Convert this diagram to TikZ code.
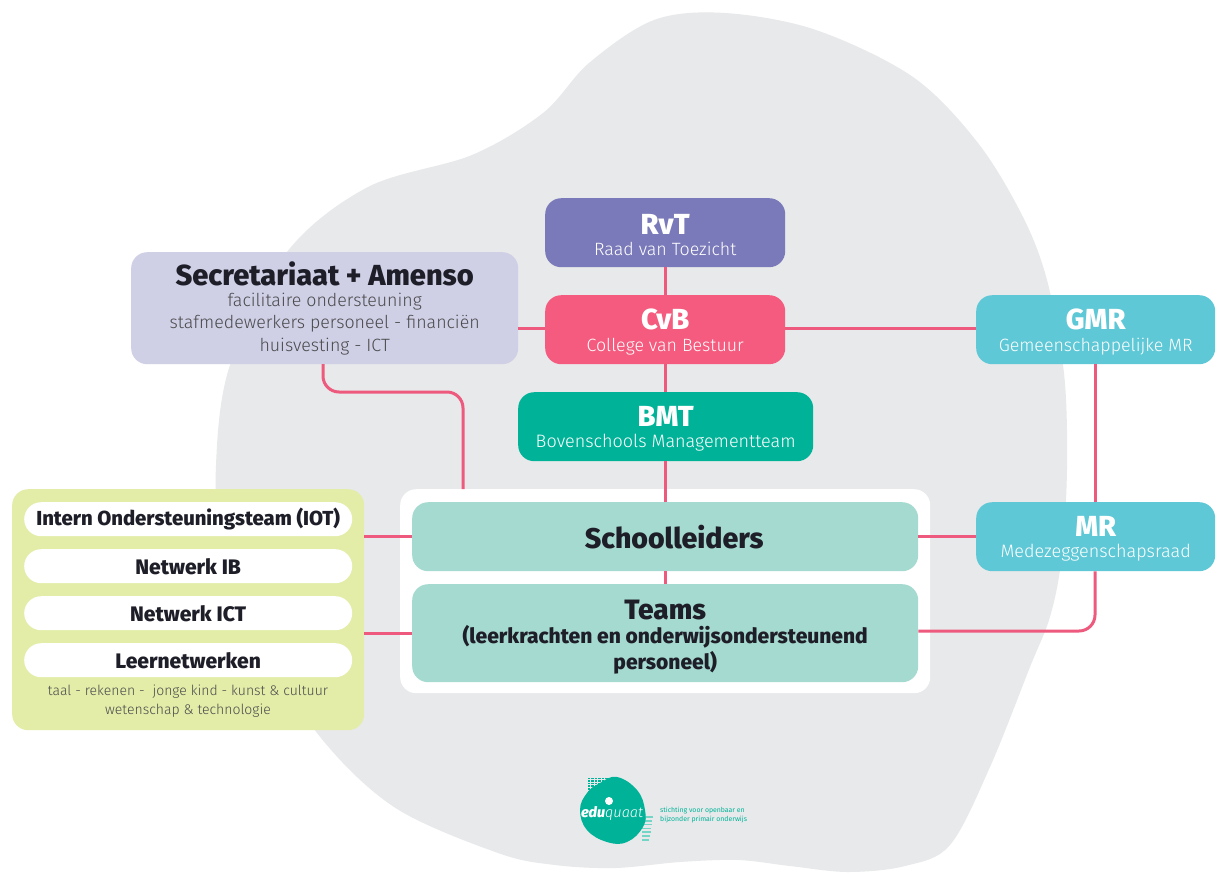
\documentclass[tikz,border=0pt]{standalone}
\usepackage{fontspec}
\setmainfont{Fira Sans}[BoldFont=Fira Sans ExtraBold]
\newfontfamily\lgt{Fira Sans Light}
\definecolor{cblob}{HTML}{E8E9EB}
\definecolor{cline}{HTML}{EE5A7E}
\definecolor{crvt}{HTML}{7A79B9}
\definecolor{csec}{HTML}{CFCFE6}
\definecolor{ccvb}{HTML}{F45B7E}
\definecolor{cgmr}{HTML}{5EC8D6}
\definecolor{cbmt}{HTML}{00B398}
\definecolor{cteam}{HTML}{A5DAD0}
\definecolor{cleft}{HTML}{E3EDA8}
\definecolor{cdark}{HTML}{1E1E28}
\definecolor{cgrey}{HTML}{4A4A4C}
\tikzset{
 x=1pt,y=-1pt,
 boxn/.style={rounded corners=16pt,inner sep=0pt,align=center,anchor=north west},
 pill/.style={rounded corners=17pt,fill=white,inner sep=0pt,anchor=north west,minimum width=328pt,minimum height=34pt,font=\bfseries\fontsize{21}{23}\selectfont,text=cdark},
 conn/.style={draw=cline,line width=3pt,rounded corners=16pt},
}
\newcommand{\bt}[2]{{\bfseries\fontsize{#1}{#1}\selectfont #2}}
\newcommand{\st}[2]{{\lgt\fontsize{#1}{#1}\selectfont #2}}
\newcommand{\dn}[1]{\rule{0pt}{#1pt}}
\begin{document}
\begin{tikzpicture}
\useasboundingbox (0,0) rectangle (1216,873);
\fill[white] (0,0) rectangle (1216,873);
% blob
\fill[cblob] plot[smooth cycle,tension=0.55] coordinates {
 (725,13) (816,30) (913,77) (978,143) (1023,217) (1047,280) (1063,365) (1067,430) (1066,500) (1060,570)
 (1049,620) (1030,667) (990,767) (950,845) (905,866) (848,872) (790,866) (738,860) (680,862) (615,868) (555,865) (498,853)
 (394,807) (317,733) (255,630) (222,545) (216,465) (230,365) (287,252) (368,187) (472,155) (543,113) (589,63) (654,20)};
% white panel
\node[fill=white,rounded corners=16pt,minimum width=530pt,minimum height=204pt,inner sep=0pt,anchor=north west] (panel) at (400,489) {};
% boxes
\node[boxn,fill=crvt,minimum width=240pt,minimum height=69pt,text=white] (rvt) at (545,198) {\dn{25}\bt{29}{RvT}\\[6.5pt]\st{17.8}{Raad van Toezicht}};
\node[boxn,fill=csec,minimum width=387pt,minimum height=112pt,text=cgrey] (sec) at (131,252) {\dn{24}\textcolor{cdark}{\bt{29}{Secretariaat + Amenso}}\\[6pt]\st{17.8}{facilitaire ondersteuning}\\[4pt]\st{17.8}{stafmedewerkers personeel - financiën}\\[5pt]\st{17.8}{huisvesting - ICT}};
\node[boxn,fill=ccvb,minimum width=240pt,minimum height=69pt,text=white] (cvb) at (545,295) {\dn{25}\bt{29}{CvB}\\[6.5pt]\st{17.8}{College van Bestuur}};
\node[boxn,fill=cgmr,minimum width=239pt,minimum height=69pt,text=white] (gmr) at (976,295) {\dn{25}\bt{29}{GMR}\\[6.5pt]\st{17.8}{Gemeenschappelijke MR}};
\node[boxn,fill=cbmt,minimum width=295pt,minimum height=69pt,text=white] (bmt) at (518,392) {\dn{25}\bt{29}{BMT}\\[6.5pt]\st{18}{Bovenschools Managementteam}};
\node[boxn,fill=cteam,minimum width=506pt,minimum height=69pt,text=cdark] (school) at (412,502) {\hspace{18pt}\bt{28.5}{Schoolleiders}};
\node[boxn,fill=cteam,minimum width=506pt,minimum height=98pt,text=cdark] (teams) at (412,584) {\dn{27}\bt{28}{Teams}\\[5pt]\bt{21}{(leerkrachten en onderwijsondersteunend}\\[2pt]\bt{21}{personeel)}};
\node[boxn,fill=cgmr,minimum width=239pt,minimum height=69pt,text=white] (mr) at (976,502) {\dn{25}\bt{29}{MR}\\[6.5pt]\st{18}{Medezeggenschapsraad}};
% left panel
\node[boxn,fill=cleft,minimum width=352pt,minimum height=241pt] (lft) at (12,489) {};
\node[pill,font=\bfseries\fontsize{20.3}{22}\selectfont] (iot) at (24,502) {Intern Ondersteuningsteam (IOT)};
\node[pill] (ib) at (24,549) {Netwerk IB};
\node[pill] (ict) at (24,596) {Netwerk ICT};
\node[pill] (ln) at (24,643) {Leernetwerken};
\node[align=center,text=cgrey,inner sep=0pt] (lntxt) at (188,701) {\st{14}{taal - rekenen -\ \ jonge kind - kunst \& cultuur}\\[4pt]\st{14}{wetenschap \& technologie}};
% connectors
\coordinate (sx) at (323,364);
\coordinate (sy) at (463,489);
\coordinate (l1) at (364,536);
\coordinate (l2) at (364,633);
\draw[conn] (rvt.south) -- (cvb.north);
\draw[conn] (sec.east |- 0,328) -- (cvb.west |- 0,328);
\draw[conn] (cvb.east |- 0,328) -- (gmr.west |- 0,328);
\draw[conn] (cvb.south) -- (bmt.north -| cvb.south);
\draw[conn] (bmt.south -| cvb.south) -- (school.north -| cvb.south);
\draw[conn] (school.south -| cvb.south) -- (teams.north -| cvb.south);
\draw[conn] (school.east) -- (mr.west);
\draw[conn] (gmr.south -| 1095,0) -- (mr.north -| 1095,0);
\draw[conn] (teams.east |- 0,631) -- (1095,631) -- (mr.south -| 1095,0);
\draw[conn] (sx) -- (323,392) -- (463,392) -- (sy);
\draw[conn] (l1) -- (l1 -| school.west);
\draw[conn] (l2) -- (l2 -| teams.west);
% logo
\fill[cbmt] (587,777) rectangle (608,792);
\foreach \i in {0,...,6} {
 \draw[cblob,line width=.8pt] (587+\i*3.5,776) -- (587+\i*3.5,793);
 \draw[cblob,line width=.8pt] (586,777+\i*2.6) -- (609,777+\i*2.6);
}
\foreach \i in {0,...,6} \draw[cbmt!55,line width=1.6pt] (642,817+\i*3.8) -- (653-\i*.6,817+\i*3.8);
\fill[cbmt] plot[smooth cycle,tension=0.7] coordinates {(617,777) (637,790) (645,810) (643,827) (627,842) (607,842) (587,830) (580,810) (587,793) (600,783)};
\fill[white] (609,801) circle (4pt);
\node[text=white,inner sep=0pt] (eq) at (612,813) {\itshape\fontsize{14.5}{14.5}\selectfont{\bfseries edu}{\lgt\itshape quaat}};
\node[text=cbmt,align=left,anchor=west,inner sep=0pt,font=\fontsize{6.9}{9}\selectfont] (eqt) at (660,815) {stichting voor openbaar en\\bijzonder primair onderwijs};
\end{tikzpicture}
\end{document}
